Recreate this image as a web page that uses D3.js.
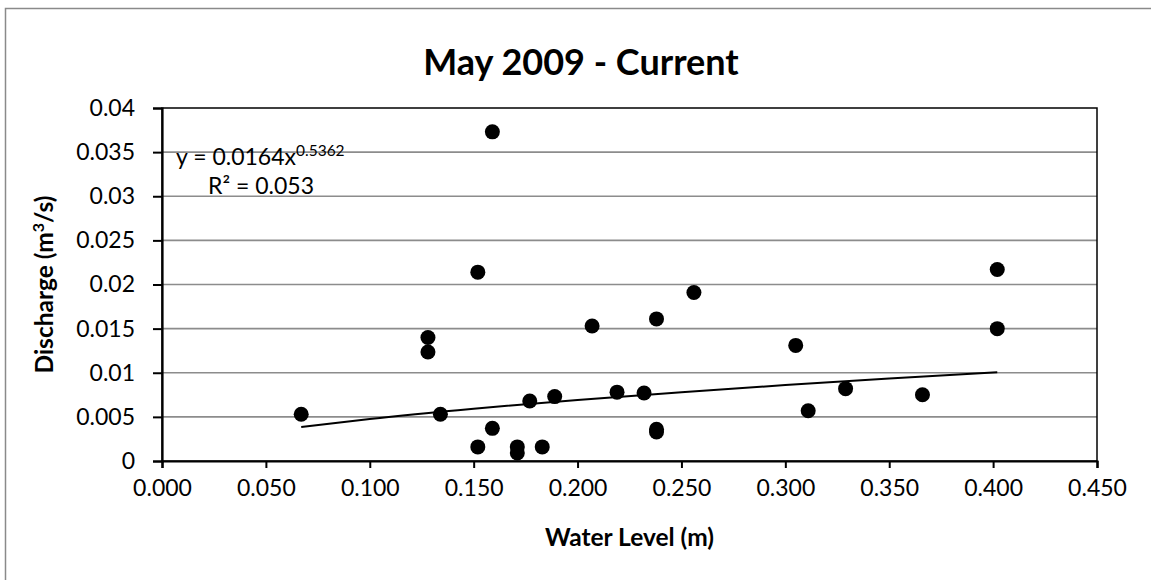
<!DOCTYPE html>
<html>
<head>
<meta charset="utf-8">
<script src="https://cdn.jsdelivr.net/npm/d3@7"></script>
<style>
  body { margin: 0; background: #fff; }
  text { font-family: Lato, "Open Sans", sans-serif; fill: #000; }
</style>
</head>
<body>
<div id="chart"></div>
<script>
// measured points (water level in m, discharge in m3/s)
const waterLevel = [0.067, 0.128, 0.128, 0.134, 0.152, 0.152, 0.159, 0.159, 0.171, 0.171,
  0.177, 0.183, 0.189, 0.207, 0.219, 0.232, 0.238, 0.238, 0.238, 0.256,
  0.305, 0.311, 0.329, 0.366, 0.402, 0.402];
const discharge = [0.0053, 0.0140, 0.01235, 0.0053, 0.0214, 0.0016, 0.0373, 0.0037, 0.0016, 0.0009,
  0.0068, 0.0016, 0.0073, 0.0153, 0.0078, 0.0077, 0.0161, 0.0036, 0.0033, 0.0191,
  0.0131, 0.0057, 0.0082, 0.0075, 0.0217, 0.0150];

// power trendline
const trendX = [0.067, 0.1, 0.15, 0.2, 0.25, 0.3, 0.35, 0.402];
const trendY = [0.00385, 0.00477, 0.00593, 0.00692, 0.00780, 0.00860, 0.00934, 0.01006];

const xTicks = [0, 0.05, 0.1, 0.15, 0.2, 0.25, 0.3, 0.35, 0.4, 0.45];
const yTicks = [0, 0.005, 0.01, 0.015, 0.02, 0.025, 0.03, 0.035, 0.04];

const title = "May 2009 - Current";
const xLabel = "Water Level (m)";

const W = 1151, H = 580;
const plot = { left: 162, right: 1097, top: 108, bottom: 461 };

const svg = d3.select("#chart").append("svg")
  .attr("width", W)
  .attr("height", H);

// outer chart border
svg.append("rect")
  .attr("x", 5.5).attr("y", 8.5)
  .attr("width", 1200).attr("height", 700)
  .attr("fill", "#fff")
  .attr("stroke", "#8a8a8a")
  .attr("stroke-width", 1.5);

const x = d3.scaleLinear().domain([0, 0.45]).range([plot.left, plot.right]);
const y = d3.scaleLinear().domain([0, 0.04]).range([plot.bottom, plot.top]);

// gridlines
svg.append("g")
  .selectAll("line")
  .data(yTicks.slice(1, -1))
  .join("line")
  .attr("x1", plot.left).attr("x2", plot.right)
  .attr("y1", d => y(d)).attr("y2", d => y(d))
  .attr("stroke", "#8c8c8c")
  .attr("stroke-width", 1.6);

// plot frame
svg.append("rect")
  .attr("x", plot.left).attr("y", plot.top)
  .attr("width", plot.right - plot.left)
  .attr("height", plot.bottom - plot.top)
  .attr("fill", "none")
  .attr("stroke", "#000")
  .attr("stroke-width", 1.5);

// X axis
const xAxis = svg.append("g")
  .attr("transform", "translate(0," + plot.bottom + ")")
  .call(d3.axisBottom(x).tickValues(xTicks).tickFormat(d3.format(".3f")).tickSize(7).tickPadding(12));
xAxis.select(".domain").attr("stroke", "#000").attr("stroke-width", 2.2);
xAxis.selectAll(".tick line").attr("stroke", "#000").attr("stroke-width", 2);
xAxis.selectAll(".tick text").style("font-size", "23px").attr("font-family", null);

// Y axis
const yAxis = svg.append("g")
  .attr("transform", "translate(" + plot.left + ",0)")
  .call(d3.axisLeft(y).tickValues(yTicks).tickFormat(d => d3.format("")(+d.toFixed(3))).tickSize(9).tickPadding(18));
yAxis.select(".domain").attr("stroke", "#000").attr("stroke-width", 2.2);
yAxis.selectAll(".tick line").attr("stroke", "#000").attr("stroke-width", 2);
yAxis.selectAll(".tick text").style("font-size", "23px").attr("font-family", null);

// trendline
const line = d3.line()
  .x((d, i) => x(trendX[i]))
  .y(d => y(d))
  .curve(d3.curveMonotoneX);
svg.append("path")
  .attr("d", line(trendY))
  .attr("fill", "none")
  .attr("stroke", "#000")
  .attr("stroke-width", 2);

// points
svg.append("g")
  .selectAll("circle")
  .data(waterLevel)
  .join("circle")
  .attr("cx", d => x(d))
  .attr("cy", (d, i) => y(discharge[i]))
  .attr("r", 7.5)
  .attr("fill", "#000");

// equation label
const eq = svg.append("text")
  .attr("x", 176).attr("y", 165)
  .style("font-size", "23px");
eq.append("tspan").text("y = 0.0164x");
eq.append("tspan").attr("dy", -9).style("font-size", "15.5px").text("0.5362");

const r2 = svg.append("text")
  .attr("x", 208).attr("y", 193.5)
  .style("font-size", "23px");
r2.append("tspan").text("R² = 0.053");

// title
svg.append("text")
  .attr("x", 581)
  .attr("y", 75)
  .attr("text-anchor", "middle")
  .style("font-size", "36px")
  .style("font-weight", "bold")
  .text(title);

// axis labels
svg.append("text")
  .attr("x", (plot.left + plot.right) / 2)
  .attr("y", 546)
  .attr("text-anchor", "middle")
  .style("font-size", "24.5px")
  .style("font-weight", "bold")
  .text(xLabel);

const yl = svg.append("text")
  .attr("transform", "translate(53," + ((plot.top + plot.bottom) / 2) + ") rotate(-90)")
  .attr("text-anchor", "middle")
  .style("font-size", "24.5px")
  .style("font-weight", "bold");
yl.append("tspan").text("Discharge (m");
yl.append("tspan").attr("dy", -9).style("font-size", "16px").text("3");
yl.append("tspan").attr("dy", 9).text("/s)");
</script>
</body>
</html>
